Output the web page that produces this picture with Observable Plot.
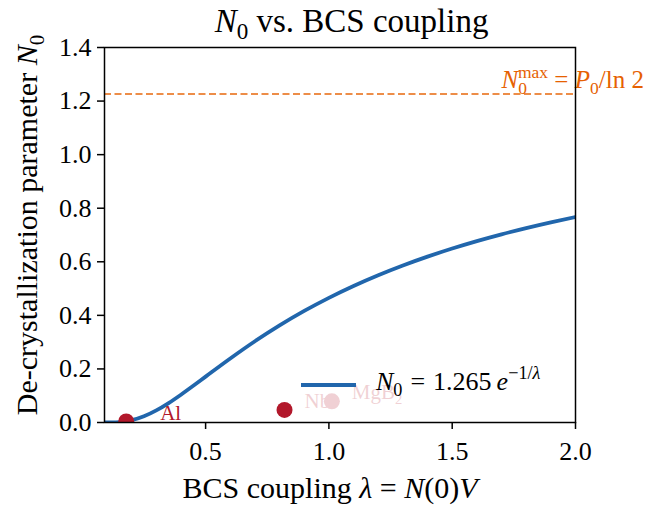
<!DOCTYPE html>
<html><head><meta charset="utf-8">
<script src="https://cdn.jsdelivr.net/npm/d3@7"></script>
<script src="https://cdn.jsdelivr.net/npm/@observablehq/plot@0.6"></script>
<style>
body{margin:0;background:#fff;}
#wrap{width:659px;height:506px;}
#wrap svg{font-family:"Liberation Serif","Times New Roman",serif;font-size:26px;overflow:visible;}
#wrap svg text, #wrap svg g{font-family:"Liberation Serif","Times New Roman",serif !important;font-variant:normal !important;}
</style></head><body><div id="wrap"></div>
<script>
// ---- data ----
const lambdaGrid = [0.09,0.12,0.15,0.2,0.25,0.3,0.35,0.4,0.45,0.5,0.6,0.7,0.8,0.9,1.0,1.1,1.2,1.3,1.4,1.5,1.6,1.7,1.8,1.9,2.0];
const n0Curve   = [0.0000,0.0003,0.0016,0.0085,0.0232,0.0452,0.0727,0.1038,0.1371,0.1712,0.2389,0.3032,0.3624,0.4165,0.4654,0.5097,0.5498,0.5862,0.6192,0.6494,0.6772,0.7026,0.7259,0.7474,0.7673];
const materials = ["Al","Nb","MgB2"];
const matLambda = [0.178,0.82,1.012];
const matN0     = [0.004,0.047,0.079];
const n0Max = 1.2263;
const maxLabelLambda = 1.7;
const xTicks = [0.5,1.0,1.5,2.0];
const yTicks = [0,0.2,0.4,0.6,0.8,1.0,1.2,1.4];
const titleText = "N0 vs. BCS coupling";
const xLabel = "BCS coupling λ = N(0)V";
const yLabel = "De-crystallization parameter N0";
const maxLabel = "N0max = P0/ln 2";

const FONT = '"Liberation Serif","Times New Roman",serif';
const BLUE = "#2166ac", RED = "#b2182b", ORANGE = "#e66101";

const curve = lambdaGrid.map((x,i)=>({x, y:n0Curve[i]}));
const mats = materials.map((name,i)=>({name, x:matLambda[i], y:matN0[i]}));

const plot = Plot.plot({
  width:659, height:506, marginLeft:104, marginRight:84, marginTop:47, marginBottom:84,
  style:"background:white;color:black;",
  x:{domain:[0.09,2.0]},
  y:{domain:[0,1.4]},
  marks:[
    Plot.ruleY([n0Max], {stroke:ORANGE, strokeOpacity:0.72, strokeWidth:2, strokeDasharray:"7,3.5"}),
    Plot.line(curve, {x:"x", y:"y", stroke:BLUE, strokeWidth:3.8, curve:"monotone-x", clip:true}),
    Plot.dot(mats, {x:"x", y:"y", r:8, fill:RED, clip:true}),
    Plot.text(mats.filter(d=>d.name==="Al"), {x:"x", y:"y", text:"name", dx:34, dy:-8, textAnchor:"start", fill:RED, fontSize:21, fontFamily:FONT}),
    Plot.text(mats.filter(d=>d.name!=="Al"), {x:"x", y:"y", text:"name", dx:20, dy:-9, textAnchor:"start", fill:RED, fontSize:21, fontFamily:FONT}),
    Plot.text([n0Max], {x:()=>maxLabelLambda, y:d=>d, text:()=>maxLabel, textAnchor:"start", lineAnchor:"bottom", dy:-6, fill:ORANGE, fontSize:25, fontFamily:FONT}),
    Plot.axisX({ticks:xTicks, tickFormat:d=>d.toFixed(1), tickSize:7, tickPadding:12, label:null, strokeWidth:1.5, fontSize:26, fontFamily:FONT}),
    Plot.axisY({ticks:yTicks, tickFormat:d=>d.toFixed(1), tickSize:7, tickPadding:6, label:null, strokeWidth:1.5, fontSize:26, fontFamily:FONT}),
    Plot.frame({stroke:"black", strokeWidth:1.5}),
    Plot.text([titleText], {frameAnchor:"top", text:d=>d, dx:11.5, dy:-16, lineAnchor:"bottom", textAnchor:"middle", fontSize:33, fill:"black", fontFamily:FONT}),
    Plot.text([xLabel], {frameAnchor:"bottom", text:d=>d, dx:-10, dy:75, lineAnchor:"bottom", textAnchor:"middle", fontSize:30, fill:"black", fontFamily:FONT}),
    Plot.text([yLabel], {frameAnchor:"left", text:d=>d, dx:-68, dy:-10, rotate:-90, lineAnchor:"bottom", textAnchor:"middle", fontSize:30, fill:"black", fontFamily:FONT})
  ]
});
document.getElementById("wrap").appendChild(plot);

// ---- rich text (italics, sub/superscripts) ----
function rich(el, parts, fs){
  const t = d3.select(el); t.text(null);
  let shift = 0;
  for (const p of parts){
    const [str, kind, dx] = typeof p === "string" ? [p, "", 0] : [p[0], p[1]||"", p[2]||0];
    const ts = t.append("tspan").text(str);
    let target = 0;
    if (kind.includes("sub")) target = 0.24*fs;
    if (kind.includes("sup")) target = -0.42*fs;
    if (target !== shift){ ts.attr("dy", target - shift); shift = target; }
    if (dx) ts.attr("dx", dx);
    if (kind.includes("sub") || kind.includes("sup")) ts.attr("font-size", (fs*0.7).toFixed(1));
    if (kind.includes("i")) ts.attr("font-style","italic");
  }
}
const richMap = {
  [titleText]: [[["N","i"],["0","sub"]," vs. BCS coupling"],33],
  [xLabel]: [["BCS coupling ",["λ","i"]," = ",["N","i"],"(0)",["V","i"]],30],
  [yLabel]: [["De-crystallization parameter ",["N","i"],["0","sub"]],30],
  ["MgB2"]: [["MgB",["2","sub"]],21],
  [maxLabel]: [[["N","i"],["0","sub"],["max","sup",-9]," = ",["P","i"],["0","sub"],"/ln 2"],25]
};
d3.select(plot).selectAll("text").each(function(){
  const r = richMap[this.textContent];
  if (r) rich(this, r[0], r[1]);
});

// ---- legend (drawn on top, semi-transparent white box like matplotlib) ----
const svg = d3.select(plot);
const lg = svg.append("g").attr("font-family", FONT).attr("text-anchor","start");
lg.append("rect").attr("x",293).attr("y",362).attr("width",273).attr("height",50).attr("rx",3)
  .attr("fill","white").attr("fill-opacity",0.8);
lg.append("line").attr("x1",301).attr("x2",356).attr("y1",385).attr("y2",385)
  .attr("stroke",BLUE).attr("stroke-width",3.8);
const lt = lg.append("text").attr("x",376).attr("y",390).attr("font-size",26).attr("fill","black").attr("text-anchor","start").node();
rich(lt, [["N","i"],["0","sub"],["=","",8],["1.265","",8],["e","i",5],["−1/","sup"],["λ","sup i"]], 26);
</script>
</body></html>
